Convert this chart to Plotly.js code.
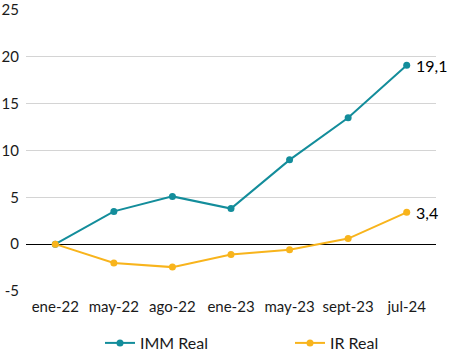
<!DOCTYPE html>
<html><head><meta charset="utf-8">
<script src="https://cdn.plot.ly/plotly-3.0.1.min.js"></script>
<style>body{margin:0;background:#fff}#c{width:451px;height:353px}</style>
</head><body><div id="c"></div>
<script>
const categories = ["ene-22","may-22","ago-22","ene-23","may-23","sept-23","jul-24"];
const immReal = [0, 3.5, 5.1, 3.8, 9.0, 13.5, 19.1];
const irReal = [0, -2.0, -2.45, -1.1, -0.6, 0.6, 3.4];
const yTicks = [-5, 0, 5, 10, 15, 20, 25];
const font = "Lato, 'Open Sans', sans-serif";
const traces = [
  {x: categories, y: immReal, name: "IMM Real", type: "scatter", mode: "lines+markers",
   line: {color: "#138d9b", width: 2}, marker: {color: "#138d9b", size: 7}},
  {x: categories, y: irReal, name: "IR Real", type: "scatter", mode: "lines+markers",
   line: {color: "#f8b41c", width: 2}, marker: {color: "#f8b41c", size: 7}}
];
const n = categories.length;
const layout = {
  width: 451, height: 353,
  margin: {l: 26, r: 15, t: 10, b: 62, autoexpand: false},
  paper_bgcolor: "#fff", plot_bgcolor: "#fff",
  font: {family: font, size: 15, color: "#1a1a1a"},
  showlegend: true,
  legend: {orientation: "h", xref: "container", yref: "container", x: 100/451, xanchor: "left", y: 10/353, yanchor: "middle",
           font: {size: 16, color: "#1a1a1a"}, entrywidth: 145, entrywidthmode: "pixels", traceorder: "normal"},
  xaxis: {type: "category", range: [-0.5, n - 0.5], showgrid: false, zeroline: false, showline: false, ticks: "", tickfont: {size: 15}, automargin: false, ticklabelstandoff: 5},
  yaxis: {range: [-5, 25], tickvals: yTicks, ticktext: yTicks.map(String), showgrid: true, gridcolor: "#d4d4d4", gridwidth: 1, automargin: false,
          zeroline: true, zerolinecolor: "#000", zerolinewidth: 1, showline: false, ticks: "", ticklabelstandoff: 6, tickfont: {size: 15}},
  annotations: [
    {x: categories[n-1], y: immReal[n-1], text: String(immReal[n-1]).replace(".", ","), showarrow: false, xanchor: "left", xshift: 7, font: {size: 16, color: "#000"}},
    {x: categories[n-1], y: irReal[n-1], text: String(irReal[n-1]).replace(".", ","), showarrow: false, xanchor: "left", xshift: 7, font: {size: 16, color: "#000"}}
  ]
};
Plotly.newPlot("c", traces, layout, {staticPlot: true, displayModeBar: false});
</script></body></html>
